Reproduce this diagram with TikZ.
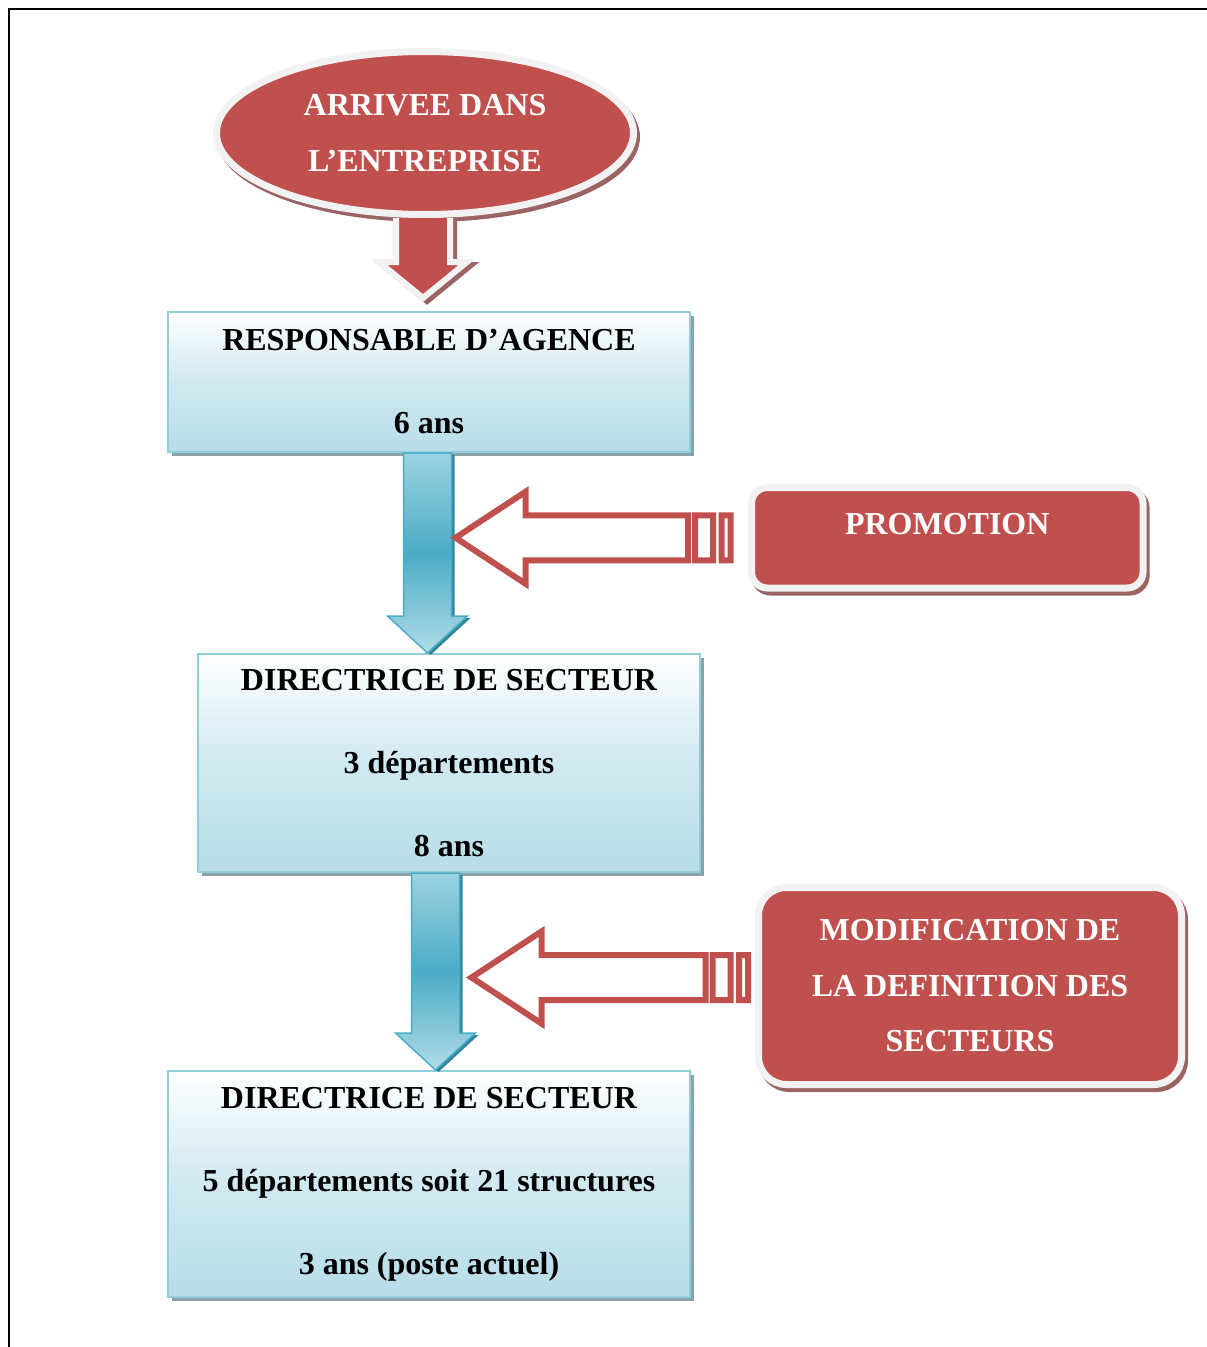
\documentclass[tikz,border=0pt]{standalone}
\usepackage{fontspec}
\setmainfont{Liberation Serif}
\usetikzlibrary{shapes, shadows, calc}

\definecolor{redfill}{HTML}{C0504D}
\definecolor{rimgray}{HTML}{F2F2F2}
\definecolor{redshadow}{HTML}{9A6464}
\definecolor{boxblue}{HTML}{B7DDE8}
\definecolor{boxborder}{HTML}{92CDDC}
\definecolor{boxshadow}{HTML}{8AA3AA}
\definecolor{arrowlight}{HTML}{9CD3E1}
\definecolor{arrowdark}{HTML}{4BACC6}
\definecolor{arrowshadow}{HTML}{31859C}

\tikzset{
  bluebox/.style={draw=boxborder, line width=2pt, top color=white, bottom color=boxblue,
    middle color=boxblue!65!white, align=center, inner sep=0pt,
    font=\bfseries\fontsize{32}{83}\selectfont,
    drop shadow={shadow xshift=4pt, shadow yshift=-4pt, fill=boxshadow, opacity=1}},
  redshape/.style={draw=rimgray, line width=7pt, fill=redfill, text=white, align=center,
    inner sep=0pt, font=\bfseries\fontsize{32}{55.5}\selectfont,
    drop shadow={shadow xshift=3pt, shadow yshift=-4pt, draw=redshadow, line width=7pt,
      fill=redshadow, opacity=1}},
  redarrow/.style={draw=rimgray, line width=6pt, fill=redfill,
    drop shadow={shadow xshift=4pt, shadow yshift=-3pt, draw=redshadow, line width=6pt,
      fill=redshadow, opacity=1}},
  bluearrow/.style={draw=arrowdark, line width=1.5pt, top color=arrowlight,
    bottom color=arrowlight!80!white, middle color=arrowdark,
    drop shadow={shadow xshift=3pt, shadow yshift=-2pt, fill=arrowshadow, opacity=1}},
  hollowarrow/.style={draw=redfill, line width=6pt, fill=white},
}

% block arrow pointing down: style, start, tip, shaft half width, head half width, head length
\newcommand{\downblock}[6]{%
  \path[#1] let \p1=(#2), \p2=(#3) in
    (\x1-#4,\y1) -- (\x1-#4,\y2+#6) -- (\x1-#5,\y2+#6) -- (\x1,\y2)
    -- (\x1+#5,\y2+#6) -- (\x1+#4,\y2+#6) -- (\x1+#4,\y1) -- cycle;}

% striped hollow arrow pointing left: start (right end), tip
\newcommand{\leftblock}[2]{%
  \path[hollowarrow] let \p1=(#1), \p2=(#2) in
    (\x2,\y2) -- (\x2+70pt,\y2+46pt) -- (\x2+70pt,\y2+22.5pt) -- (\x1-46pt,\y2+22.5pt)
    -- (\x1-46pt,\y2-22.5pt) -- (\x2+70pt,\y2-22.5pt) -- (\x2+70pt,\y2-46pt) -- cycle
    (\x1-39pt,\y2-22.5pt) rectangle (\x1-21pt,\y2+22.5pt)
    (\x1-12.5pt,\y2-22.5pt) rectangle (\x1-3.5pt,\y2+22.5pt);}

\begin{document}
\begin{tikzpicture}[x=1pt, y=-1pt]
        \useasboundingbox (0,0) rectangle (1207,1347);
        \draw[line width=2.5pt] (9,1347) -- (9,9) -- (1207,9);

        \node[redshape, ellipse, minimum width=417pt, minimum height=163pt] (arrive) at (425,133)
            {ARRIVEE DANS\\L’ENTREPRISE};

        \node[bluebox, minimum width=522pt, minimum height=140pt] (resp) at (429,382)
            {RESPONSABLE D’AGENCE\\6 ans};
        \node[bluebox, minimum width=502pt, minimum height=218pt] (dir1) at (449,763)
            {DIRECTRICE DE SECTEUR\\3 départements\\8 ans};
        \node[bluebox, minimum width=522pt, minimum height=226pt] (dir2) at (429,1184)
            {DIRECTRICE DE SECTEUR\\5 départements soit 21 structures\\3 ans (poste actuel)};

        \node[redshape, rounded corners=16pt, minimum width=391.5pt, minimum height=100.5pt,
            text depth=28pt] (promo) at (947.25,537.75) {PROMOTION};
        \node[redshape, rounded corners=28pt, minimum width=423pt, minimum height=197pt]
            (modif) at (970,986) {MODIFICATION DE\\LA DEFINITION DES\\SECTEURS};

        % arrival arrow
        \coordinate (r1s) at ($(arrive.south)+(-2,0)$);
        \coordinate (r1t) at ($(arrive.south |- resp.north)+(-2,-13)$);
        \path[redarrow] let \p1=(r1s), \p2=(r1t) in
            (\x1-27pt,\y1) -- (\x1-27pt,\y2+36pt) -- (\x1-44pt,\y2+36pt) -- (\x1,\y2)
            -- (\x1+44pt,\y2+36pt) -- (\x1+27pt,\y2+36pt) -- (\x1+27pt,\y1);

        % career arrows
        \coordinate (a1s) at ($(resp.south)+(-1.5,0)$);
        \coordinate (a1t) at (a1s |- dir1.north);
        \coordinate (a2s) at ($(dir1.south)+(-13.5,0)$);
        \coordinate (a2t) at (a2s |- dir2.north);
        \downblock{bluearrow}{a1s}{a1t}{24pt}{40pt}{37pt}
        \downblock{bluearrow}{a2s}{a2t}{24pt}{40pt}{37pt}

        % events
        \coordinate (p1s) at ($(promo.west)+(-14,0)$);
        \coordinate (p1t) at ($(a1s |- promo.west)+(28,0)$);
        \coordinate (p2s) at ($(modif.west)+(-3.5,-8.5)$);
        \coordinate (p2t) at ($(a2s |- p2s)+(36,0)$);
        \leftblock{p1s}{p1t}
        \leftblock{p2s}{p2t}
\end{tikzpicture}
\end{document}
